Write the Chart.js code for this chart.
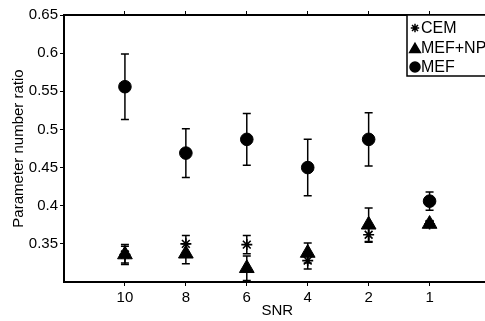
<!DOCTYPE html>
<html>
<head>
<meta charset="utf-8">
<script src="https://cdn.jsdelivr.net/npm/chart.js@4/dist/chart.umd.min.js"></script>
<style>
  html, body { margin: 0; padding: 0; background: #fff; overflow: hidden; }
  #chart { display: block; }
</style>
</head>
<body>
<canvas id="chart" width="500" height="321"></canvas>
<script>
// SNR categories, left to right
const snrLabels = ['10', '8', '6', '4', '2', '1'];
const xPos = [1, 2, 3, 4, 5, 6];
const yTicks = [0.35, 0.4, 0.45, 0.5, 0.55, 0.6, 0.65];

// series values (mean) and error half-widths
const cemValues = [0.336, 0.350, 0.349, 0.328, 0.362, 0.376];
const cemErrors = [0.011, 0.011, 0.012, 0.011, 0.010, 0.003];
const mefnpValues = [0.336, 0.337, 0.318, 0.338, 0.375, 0.376];
const mefnpErrors = [0.013, 0.013, 0.016, 0.013, 0.022, 0.003];
const mefValues = [0.556, 0.469, 0.487, 0.450, 0.487, 0.406];
const mefErrors = [0.043, 0.032, 0.034, 0.037, 0.035, 0.012];

const FONT = 'Arial, "Liberation Sans", sans-serif';

function points(values, errors) {
  return values.map((v, i) => ({ x: xPos[i], y: v, err: errors[i] }));
}

// Error bars drawn before each dataset's markers
const errorBars = {
  id: 'errorBars',
  beforeDatasetDraw(chart, args) {
    const ctx = chart.ctx;
    const xs = chart.scales.x, ys = chart.scales.y;
    const area = chart.chartArea;
    ctx.save();
    ctx.beginPath();
    ctx.rect(area.left, area.top, area.right - area.left, area.bottom - area.top);
    ctx.clip();
    ctx.strokeStyle = '#000';
    ctx.lineWidth = 1.5;
    chart.data.datasets[args.index].data.forEach(p => {
      const x = xs.getPixelForValue(p.x);
      const top = ys.getPixelForValue(p.y + p.err);
      const bot = ys.getPixelForValue(p.y - p.err);
      ctx.beginPath();
      ctx.moveTo(x, top); ctx.lineTo(x, bot);
      ctx.moveTo(x - 4, top); ctx.lineTo(x + 4, top);
      ctx.moveTo(x - 4, bot); ctx.lineTo(x + 4, bot);
      ctx.stroke();
    });
    ctx.restore();
  }
};

// Boxed legend in the top right corner
const boxLegend = {
  id: 'boxLegend',
  afterDraw(chart) {
    const ctx = chart.ctx;
    ctx.save();
    ctx.fillStyle = '#fff';
    ctx.fillRect(407, 15, 95, 61);
    ctx.strokeStyle = '#000';
    ctx.lineWidth = 1.5;
    ctx.strokeRect(407, 15, 95, 61);
    const rows = [28, 48, 67];
    const sizes = [4.2, 6.2, 5];
    chart.data.datasets.forEach((ds, i) => {
      Chart.helpers.drawPoint(ctx, {
        pointStyle: ds.pointStyle, radius: sizes[i], borderWidth: ds.borderWidth
      }, 415, rows[i] + (ds.pointStyle === 'triangle' ? 1.5 : 0));
      ctx.fillStyle = '#000';
      ctx.strokeStyle = '#000';
      ctx.font = '16px ' + FONT;
      ctx.textBaseline = 'middle';
      ctx.textAlign = 'left';
      ctx.fillText(ds.label, 421, rows[i] + 1);
    });
    ctx.restore();
  }
};

const gridOpts = {
  drawOnChartArea: false,
  drawTicks: true,
  tickLength: 4,
  color: '#000',
  lineWidth: 1
};

new Chart(document.getElementById('chart'), {
  type: 'scatter',
  data: {
    datasets: [
      { label: 'CEM', data: points(cemValues, cemErrors), pointStyle: 'star',
        pointRadius: 5.5, borderWidth: 1.6, borderColor: '#000', backgroundColor: '#000' },
      { label: 'MEF+NP', data: points(mefnpValues, mefnpErrors), pointStyle: 'triangle',
        pointRadius: 8.5, borderWidth: 1, borderColor: '#000', backgroundColor: '#000' },
      { label: 'MEF', data: points(mefValues, mefErrors), pointStyle: 'circle',
        pointRadius: 6.3, borderWidth: 1, borderColor: '#000', backgroundColor: '#000' }
    ]
  },
  options: {
    responsive: false,
    animation: false,
    layout: { padding: { left: 0, right: 9, top: 0, bottom: 0 } },
    plugins: {
      legend: { display: false },
      tooltip: { enabled: false }
    },
    scales: {
      x: {
        type: 'linear', position: 'bottom', min: 0, max: 7,
        afterBuildTicks: s => { s.ticks = xPos.map(v => ({ value: v })); },
        afterFit: s => { s.height = 39; },
        grid: gridOpts,
        border: { color: '#000', width: 2 },
        ticks: {
          color: '#000', padding: 3, maxRotation: 0,
          font: { family: FONT, size: 15 },
          callback: v => snrLabels[xPos.indexOf(v)]
        },
        title: {
          display: true, text: 'SNR', color: '#000',
          font: { family: FONT, size: 15 }, padding: { top: 0, bottom: 1 }
        }
      },
      x2: {
        type: 'linear', position: 'top', min: 0, max: 7,
        afterBuildTicks: s => { s.ticks = xPos.map(v => ({ value: v })); },
        afterFit: s => { s.height = 15; },
        grid: gridOpts,
        border: { color: '#000', width: 2 },
        ticks: { display: false }
      },
      y: {
        type: 'linear', position: 'left', min: 0.3, max: 0.65,
        afterBuildTicks: s => { s.ticks = yTicks.map(v => ({ value: v })); },
        afterFit: s => { s.width = 64; },
        grid: gridOpts,
        border: { color: '#000', width: 2 },
        ticks: {
          color: '#000', padding: 2,
          font: { family: FONT, size: 15 },
          callback: v => String(v)
        },
        title: {
          display: true, text: 'Parameter number ratio', color: '#000',
          font: { family: FONT, size: 15 }, padding: { top: 10, bottom: 0 }
        }
      }
    }
  },
  plugins: [errorBars, boxLegend]
});
</script>
</body>
</html>
